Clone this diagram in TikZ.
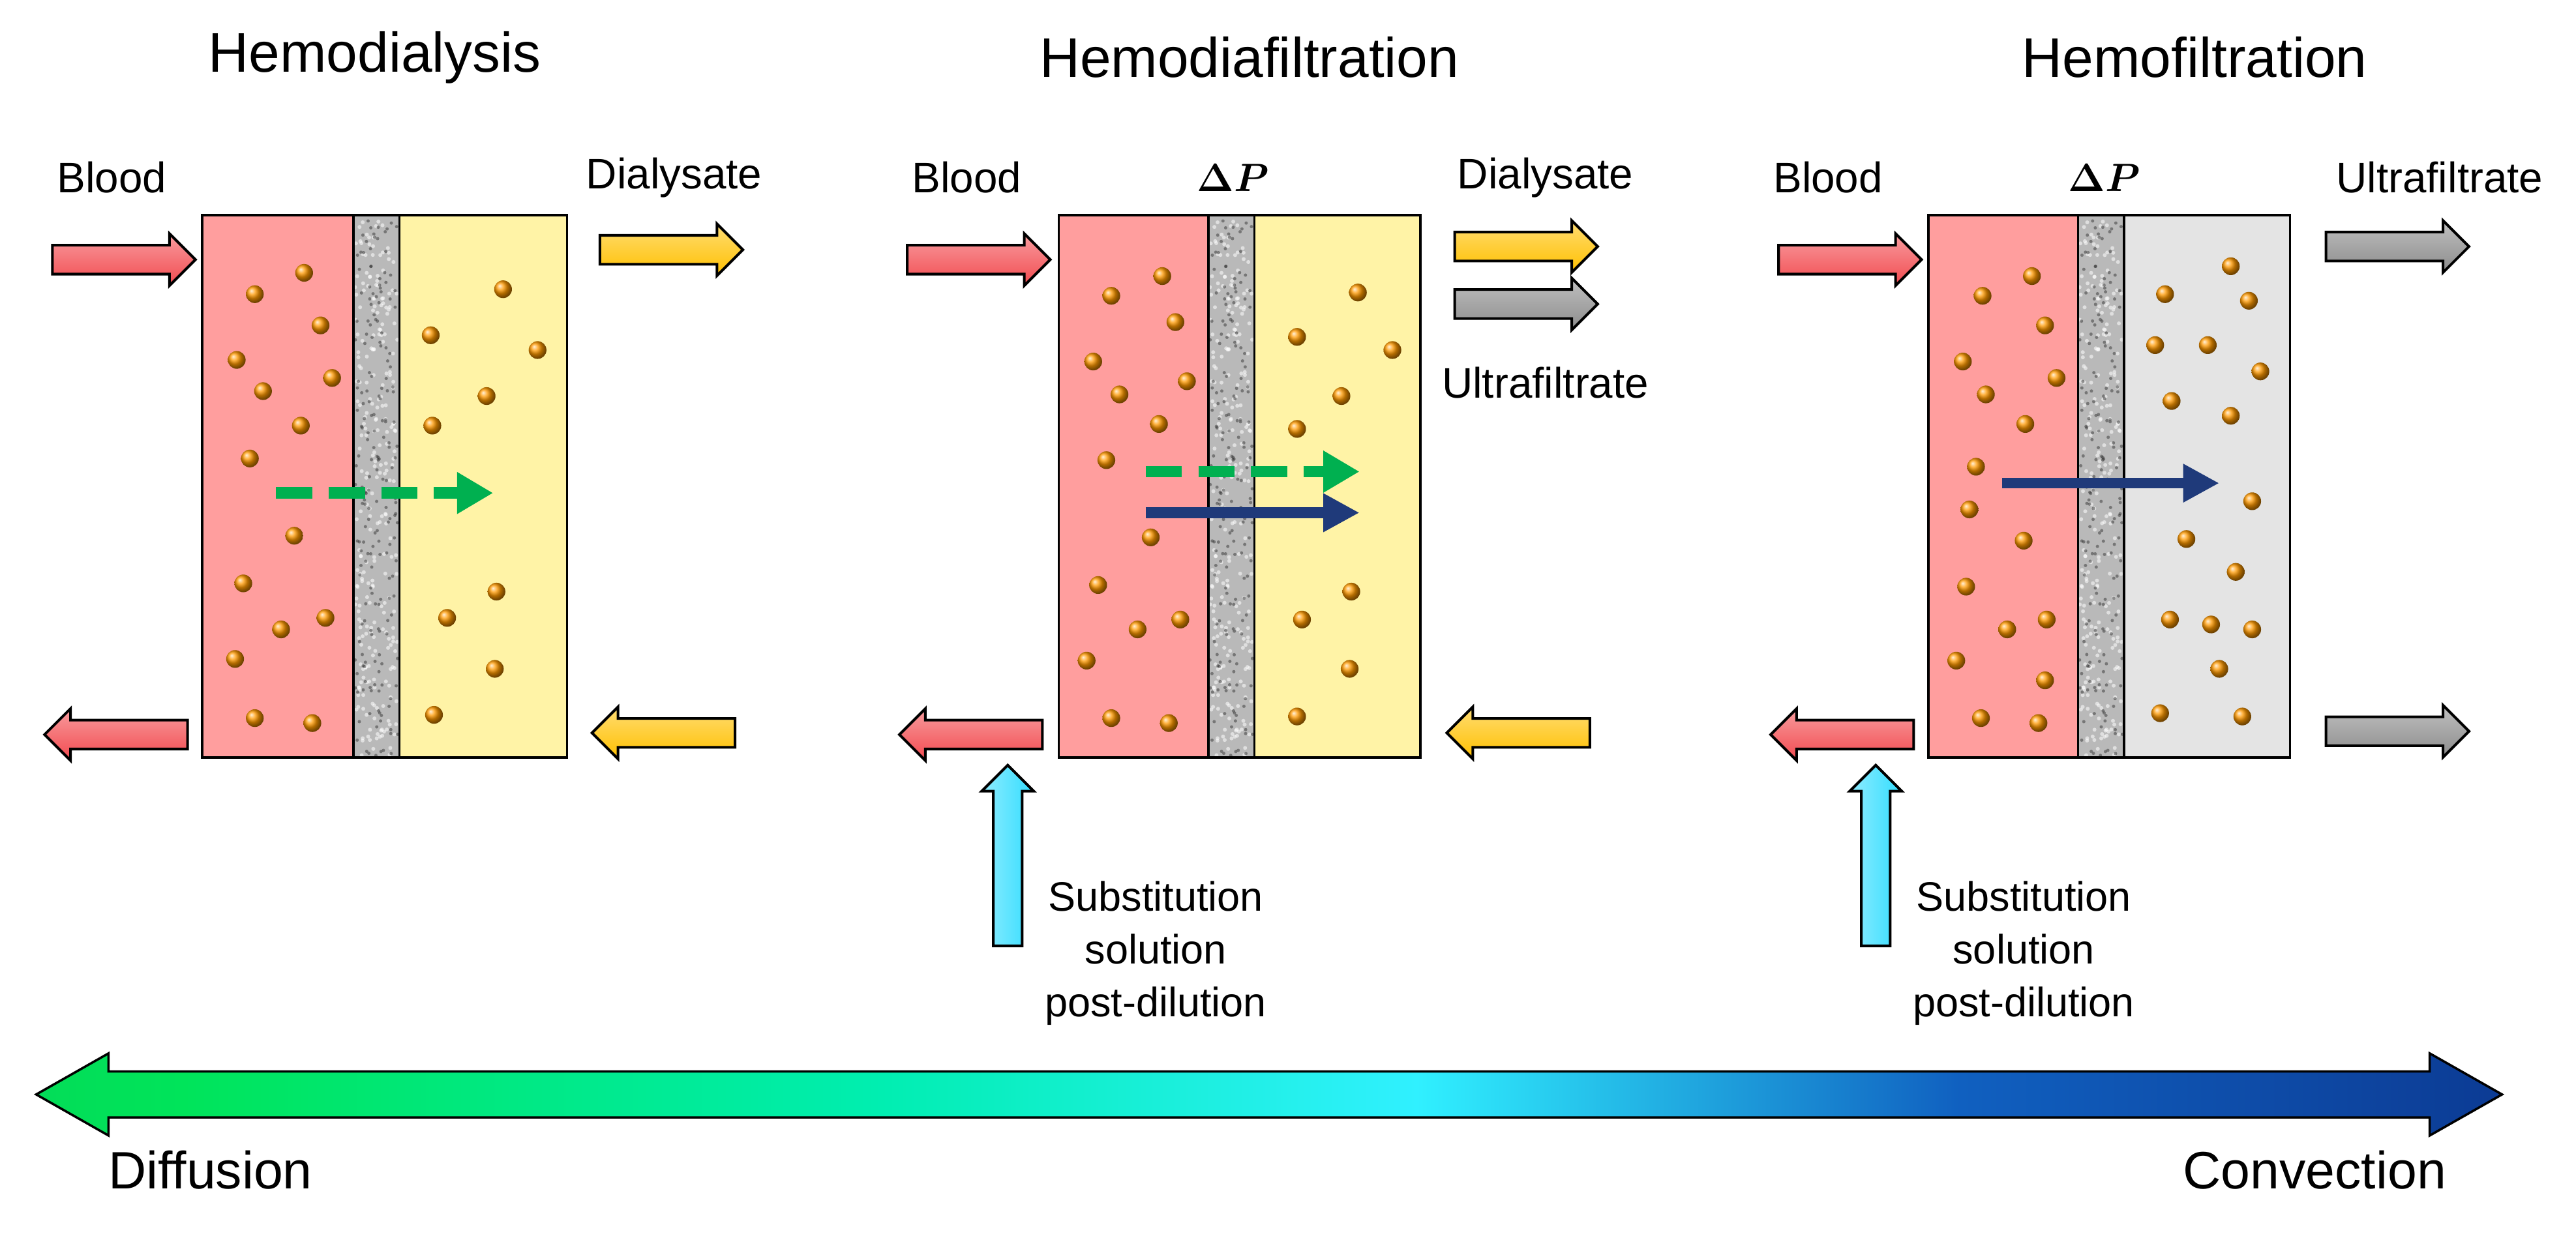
\documentclass[tikz,border=0pt]{standalone}
\usepackage{fontspec}
\setmainfont{Liberation Sans}
\usepackage{bm}
\usetikzlibrary{shapes.arrows,arrows.meta}
\definecolor{bred}{HTML}{F24A4F}
\definecolor{pinkz}{HTML}{FF9E9E}
\definecolor{yelz}{HTML}{FFF3A6}
\definecolor{grayz}{HTML}{E4E4E4}
\definecolor{yarr}{HTML}{FFC000}
\definecolor{garr}{HTML}{8C8C8C}
\definecolor{carr}{HTML}{33DDFF}
\definecolor{gdash}{HTML}{00B050}
\definecolor{navy}{HTML}{1F3A7A}
\definecolor{sp0}{HTML}{1E9E45}
\definecolor{sp1}{HTML}{00E45A}
\definecolor{sp2}{HTML}{00EEB0}
\definecolor{sp3}{HTML}{30F0FF}
\definecolor{sp4}{HTML}{1060C0}
\definecolor{sp5}{HTML}{0A2A80}
\definecolor{sp6}{HTML}{0C1C50}
\pgfdeclarehorizontalshading{spec}{100bp}{color(0bp)=(sp0);color(28bp)=(sp1);color(42bp)=(sp2);color(53bp)=(sp3);color(64bp)=(sp4);color(80bp)=(sp5);color(100bp)=(sp6)}
\tikzset{
 barr/.style={single arrow,draw=black,line width=0.8pt,inner xsep=0pt,inner ysep=4pt,text height=0pt,text depth=0pt,text width=0pt,minimum height=43.5pt,minimum width=15pt,single arrow head extend=3.5pt,single arrow head indent=0pt,shading=axis,top color=#1!55!white,bottom color=#1,shading angle=0},
 varr/.style={barr=#1,shape border rotate=90,shading angle=90,inner xsep=4pt,inner ysep=0pt,minimum height=55pt},
 lbl/.style={font=\fontsize{13}{15}\selectfont},
 ttl/.style={font=\fontsize{17}{20}\selectfont},
 sub/.style={font=\fontsize{12.5}{16}\selectfont,align=center},
 dp/.style={font=\fontsize{13}{15}\selectfont},
 zone/.style={draw=black,line width=0.7pt},
 part/.style={ball color=orange!80!yellow},
 gd/.style={draw=gdash,line width=3.5pt,dash pattern=on 11pt off 5pt,-{Triangle[length=11pt,width=12pt]}},
 nv/.style={draw=navy,line width=3.2pt,-{Triangle[length=11pt,width=11pt]}}
}
\newcommand{\membrane}[1]{%
 \fill[gray!55] (#1,131) rectangle ++(28,330);
 \pgfmathsetseed{7}
 \foreach \k in {1,...,260}{\pgfmathsetmacro{\xx}{#1+1+26*rnd}\pgfmathsetmacro{\yy}{132+328*rnd}\fill[white,opacity=0.55] (\xx,\yy) circle (0.6pt);}
 \foreach \k in {1,...,200}{\pgfmathsetmacro{\xx}{#1+1+26*rnd}\pgfmathsetmacro{\yy}{132+328*rnd}\fill[gray!30!black,opacity=0.45] (\xx,\yy) circle (0.5pt);}
}
\begin{document}
\begin{tikzpicture}[x=0.5pt,y=-0.5pt]
\useasboundingbox (0,0) rectangle (1567,752);
% ---- Panel 1
\node[ttl] (t1) at (228,35) {Hemodialysis};
\fill[pinkz] (123,131) rectangle (215,461);
\fill[yelz] (243,131) rectangle (345,461);
\membrane{215}
\draw[zone] (123,131) rectangle (345,461);
\draw[zone] (215,131) -- (215,461) (243,131) -- (243,461);
\foreach \p in {(185,166),(155,179),(195,198),(144,219),(202,230),(160,238),(183,259),(152,279),(179,326),(148,355),(198,376),(171,383),(143,401),(155,437),(190,440),(306,176),(262,204),(327,213),(296,241),(263,259),(302,360),(272,376),(301,407),(264,435)}
 \shade[part] \p circle (2.7pt);
\coordinate (g1a) at (168,300); \coordinate (g1b) at (300,300);
\draw[gd] (g1a) -- (g1b);
\node[lbl] (bl1) at (68,108) {Blood};
\node[lbl] (di1) at (410,108) {Dialysate};
\node[barr=bred] (a1) at (71,158) {};
\node[barr=bred,shape border rotate=180] (a2) at (75,447) {};
\node[barr=yarr] (a3) at (404,152) {};
\node[barr=yarr,shape border rotate=180] (a4) at (408,446) {};
% ---- Panel 2
\node[ttl] (t2) at (760,35) {Hemodiafiltration};
\fill[pinkz] (644,131) rectangle (735,461);
\fill[yelz] (763,131) rectangle (864,461);
\membrane{735}
\draw[zone] (644,131) rectangle (864,461);
\draw[zone] (735,131) -- (735,461) (763,131) -- (763,461);
\foreach \p in {(707,168),(676,180),(715,196),(665,220),(722,232),(681,240),(705,258),(673,280),(700,327),(668,356),(718,377),(692,383),(661,402),(676,437),(711,440),(826,178),(789,205),(847,213),(816,241),(789,261),(822,360),(792,377),(821,407),(789,436)}
 \shade[part] \p circle (2.7pt);
\coordinate (g2a) at (697,287); \coordinate (g2b) at (827,287);
\draw[gd] (g2a) -- (g2b);
\coordinate (n2a) at (697,312); \coordinate (n2b) at (827,312);
\draw[nv] (n2a) -- (n2b);
\node[dp] (dp2) at (750,108) {$\bm{\Delta P}$};
\node[lbl] (bl2) at (588,108) {Blood};
\node[lbl] (di2) at (940,108) {Dialysate};
\node[lbl] (uf2) at (940,233) {Ultrafiltrate};
\node[barr=bred] (b1) at (591,158) {};
\node[barr=bred,shape border rotate=180] (b2) at (595,447) {};
\node[barr=yarr] (b3) at (924,150) {};
\node[barr=garr] (b5) at (924,185) {};
\node[barr=yarr,shape border rotate=180] (b4) at (928,446) {};
\node[varr=carr] (b6) at (613,525) {};
\node[sub] (s2) at (703,580) {Substitution\\solution\\post-dilution};
% ---- Panel 3
\node[ttl] (t3) at (1335,35) {Hemofiltration};
\fill[pinkz] (1173,131) rectangle (1264,461);
\fill[grayz] (1292,131) rectangle (1393,461);
\membrane{1264}
\draw[zone] (1173,131) rectangle (1393,461);
\draw[zone] (1264,131) -- (1264,461) (1292,131) -- (1292,461);
\foreach \p in {(1236,168),(1206,180),(1244,198),(1194,220),(1251,230),(1208,240),(1232,258),(1202,284),(1198,310),(1231,329),(1196,357),(1245,377),(1221,383),(1190,402),(1244,414),(1205,437),(1240,440),(1357,162),(1317,179),(1368,183),(1311,210),(1343,210),(1375,226),(1321,244),(1357,253),(1370,305),(1330,328),(1360,348),(1320,377),(1345,380),(1370,383),(1350,407),(1314,434),(1364,436)}
 \shade[part] \p circle (2.7pt);
\coordinate (n3a) at (1218,294); \coordinate (n3b) at (1350,294);
\draw[nv] (n3a) -- (n3b);
\node[dp] (dp3) at (1280,108) {$\bm{\Delta P}$};
\node[lbl] (bl3) at (1112,108) {Blood};
\node[lbl] (uf3) at (1484,108) {Ultrafiltrate};
\node[barr=bred] (c1) at (1121,158) {};
\node[barr=bred,shape border rotate=180] (c2) at (1125,447) {};
\node[barr=garr] (c3) at (1454,150) {};
\node[barr=garr] (c4) at (1454,445) {};
\node[varr=carr] (c6) at (1141,525) {};
\node[sub] (s3) at (1231,580) {Substitution\\solution\\post-dilution};
% ---- Bottom spectrum arrow
\shade[shading=spec,draw=black,line width=0.7pt] (22,666) -- (66,641) -- (66,652) -- (1478,652) -- (1478,641) -- (1522,666) -- (1478,691) -- (1478,680) -- (66,680) -- (66,691) -- cycle;
\node[ttl,font=\fontsize{16}{19}\selectfont] (df) at (128,712) {Diffusion};
\node[ttl,font=\fontsize{16}{19}\selectfont] (cv) at (1408,712) {Convection};
\end{tikzpicture}
\end{document}
